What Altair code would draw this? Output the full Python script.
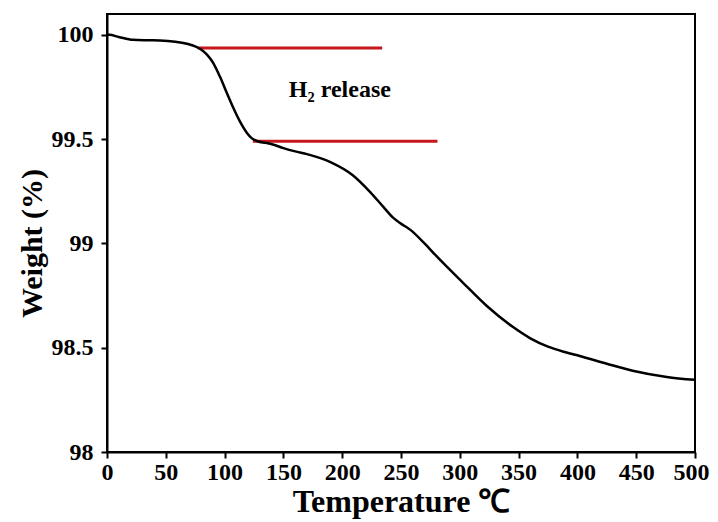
import altair as alt
import pandas as pd

temps = [0, 2, 10, 22, 35, 45, 58, 68, 75, 80, 85, 90, 96, 102, 107, 113, 119, 123, 128,
         135, 141, 150, 161, 170, 190, 209, 224, 235, 243, 250, 258, 270, 280, 303, 323,
         345, 360, 375, 390, 402, 425, 447, 476, 500]
weights = [100, 100, 99.99, 99.976, 99.974, 99.973, 99.967, 99.957, 99.945, 99.93, 99.905,
           99.868, 99.80, 99.72, 99.655, 99.585, 99.53, 99.505, 99.49, 99.482, 99.474,
           99.457, 99.44, 99.428, 99.39, 99.327, 99.245, 99.175, 99.125, 99.095, 99.065,
           99.0, 98.94, 98.81, 98.70, 98.60, 98.545, 98.505, 98.478, 98.46, 98.423, 98.39,
           98.36, 98.346]

ref_start = [77, 124]
ref_end = [234, 281]
ref_level = [99.9375, 99.49]

note_text = ["H₂ release"]
note_x = [198]
note_y = [99.735]

x_ticks = [0, 50, 100, 150, 200, 250, 300, 350, 400, 450, 500]
y_ticks = [98, 98.5, 99, 99.5, 100]

curve = pd.DataFrame({"T": temps, "W": weights})
refs = pd.DataFrame({"x": ref_start, "x2": ref_end, "y": ref_level})
note = pd.DataFrame({"x": note_x, "y": note_y, "t": note_text})

FONT = "Liberation Serif"

xs = alt.Scale(domain=[0, 500], nice=False, zero=False)
ys = alt.Scale(domain=[98, 100.1], nice=False, zero=False)

xaxis = alt.Axis(values=x_ticks, title="Temperature ℃", grid=False,
                 labelFont=FONT, labelFontSize=24, labelFontWeight="bold", labelColor="black",
                 titleFont=FONT, titleFontSize=32, titleFontWeight="bold", titleColor="black",
                 tickColor="black", tickWidth=2, tickSize=6, domainColor="black", domainWidth=2,
                 labelPadding=2, titlePadding=2, labelFlush=False,
                 labelOffset={"expr": "datum.value == 500 ? -4 : 0"})
yaxis = alt.Axis(values=y_ticks, title="Weight (%)", grid=False, labelExpr="toString(datum.value)",
                 labelFont=FONT, labelFontSize=24, labelFontWeight="bold", labelColor="black",
                 titleFont=FONT, titleFontSize=30, titleFontWeight="bold", titleColor="black",
                 tickColor="black", tickWidth=2, tickSize=6, domainColor="black", domainWidth=2,
                 labelPadding=8, titlePadding=4, titleY=229)

line = alt.Chart(curve).mark_line(color="black", strokeWidth=2.5, interpolate="monotone").encode(
    x=alt.X("T:Q", scale=xs, axis=xaxis),
    y=alt.Y("W:Q", scale=ys, axis=yaxis),
)

rules = alt.Chart(refs).mark_rule(color="#c8161d", strokeWidth=3).encode(
    x=alt.X("x:Q", scale=xs),
    x2="x2:Q",
    y=alt.Y("y:Q", scale=ys),
)

text = alt.Chart(note).mark_text(font=FONT, fontSize=24, fontWeight="bold", color="black").encode(
    x=alt.X("x:Q", scale=xs),
    y=alt.Y("y:Q", scale=ys),
    text="t:N",
)

chart = (rules + line + text).properties(
    width=588, height=438,
    autosize=alt.AutoSizeParams(type="none"),
    padding={"left": 99, "top": 6, "right": 15, "bottom": 70},
    background="white",
).configure_view(stroke="black", strokeWidth=2)

chart.save("out.html", embed_options={"renderer": "svg", "actions": False})
